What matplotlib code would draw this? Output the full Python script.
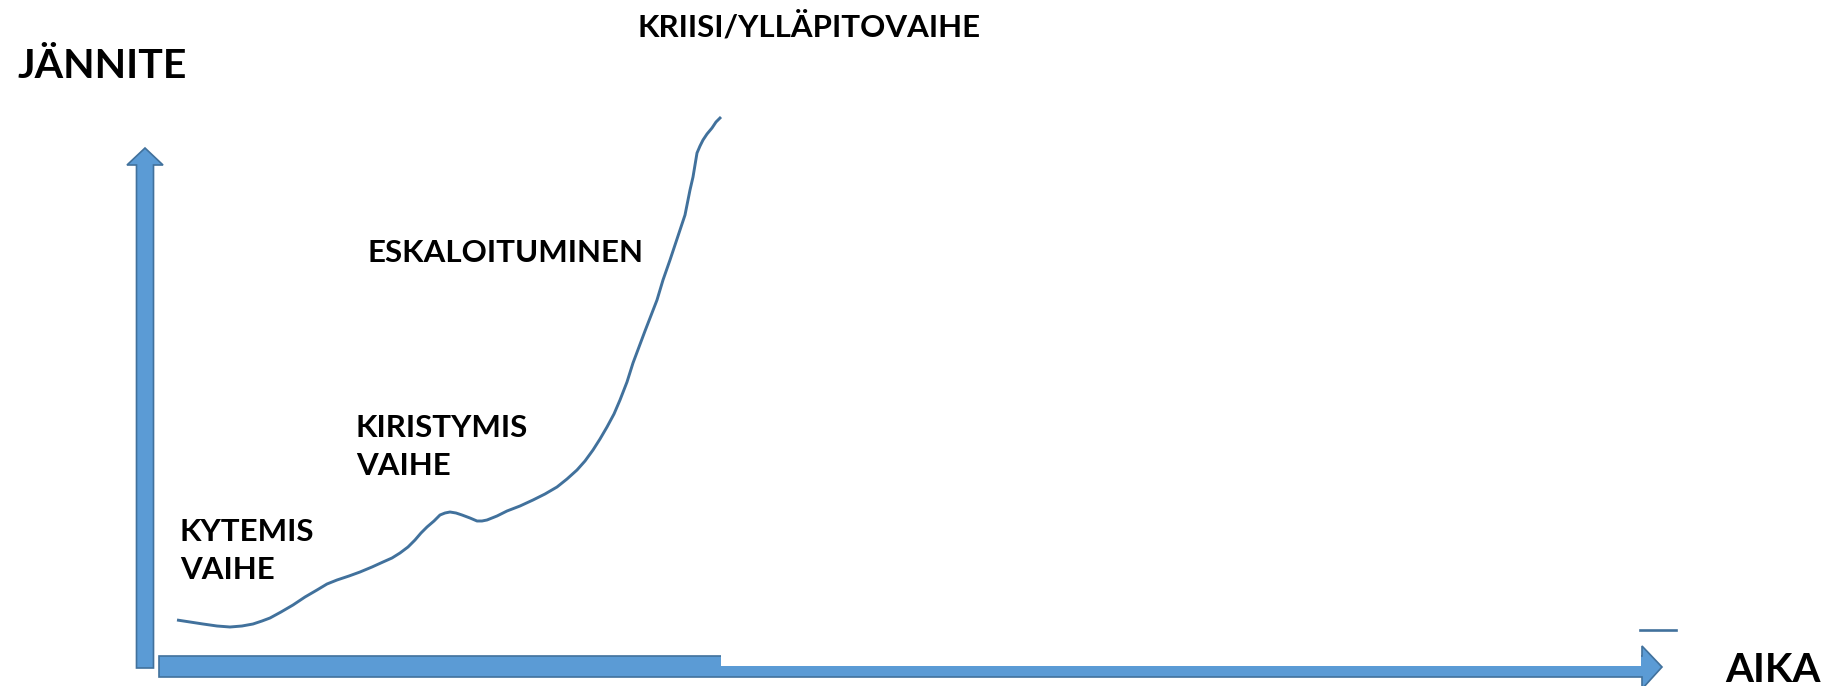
"""Jännitteen kasvu ajan funktiona: kytemis-, kiristymis-, eskaloitumis- ja kriisivaihe."""
import matplotlib
matplotlib.use("Agg")
import matplotlib.pyplot as plt
from matplotlib.patches import Polygon, Rectangle

plt.rcParams['font.family'] = ['Lato', 'DejaVu Sans']

# curve: time (x) and tension (y) above the axes corner
aika = [32, 45, 58, 72, 85, 97, 108, 117, 125, 136, 148, 160, 172, 182,
        192, 204, 215, 227, 238, 247, 255, 263, 270, 276, 282, 289, 295,
        300, 305, 311, 317, 325, 332, 337, 342, 352, 362, 375, 388, 400,
        412, 422, 432, 440, 448, 455, 462, 469, 475, 482, 488, 500, 512,
        518, 525, 530, 535, 540, 543, 545, 548, 550, 552, 555, 558, 562,
        567, 571, 576]
jannite = [48, 46, 44, 42, 41, 42, 44, 47, 50, 56, 63, 71, 78, 84,
           88, 92, 96, 101, 106, 110, 115, 121, 128, 135, 141, 147, 153,
           155, 156, 155, 153, 150, 147, 147, 148, 152, 157, 162, 168, 174,
           181, 189, 198, 207, 218, 229, 241, 254, 268, 286, 305, 337, 368,
           388, 408, 423, 438, 453, 468, 478, 491, 503, 515, 522, 528, 534,
           540, 546, 551]

# small stray segment near the right end of the time axis
loppu_aika = [1495, 1531]
loppu_jannite = [38, 38]

vaiheet = ["KYTEMIS\nVAIHE", "KIRISTYMIS\nVAIHE", "ESKALOITUMINEN",
           "KRIISI/YLLÄPITOVAIHE"]

fill_c = "#5B9BD5"
edge_c = "#41719C"
line_c = "#41719C"

fig = plt.figure(figsize=(18.28, 6.86), dpi=100)
ax = fig.add_axes([0, 0, 1, 1])
ax.set_xlim(-145, 1683)
ax.set_ylim(-18, 668)
ax.axis("off")

# y-axis arrow
ax.add_patch(Polygon([(-8.5, 0), (8.5, 0), (8.5, 503), (18, 503), (0, 520),
                      (-18, 503), (-8.5, 503)], closed=True,
                     facecolor=fill_c, edgecolor=edge_c, linewidth=1.2,
                     zorder=2))
# x-axis arrow
ax.add_patch(Polygon([(14, -9), (1497, -9), (1497, -21), (1517, 1),
                      (1497, 22), (1497, 12), (14, 12)], closed=True,
                     facecolor=fill_c, edgecolor=edge_c, linewidth=1.2,
                     zorder=2))
# the upper part of the shaft is cut away right of the middle
ax.add_patch(Rectangle((576, 2), 919.5, 14, facecolor="white",
                       edgecolor="none", zorder=3))

ax.plot(aika, jannite, color=line_c, linewidth=2.1, zorder=4,
        solid_joinstyle="round", solid_capstyle="butt")
ax.plot(loppu_aika, loppu_jannite, color=line_c, linewidth=1.9, zorder=4)

fs = 22.5
txt = dict(fontweight="bold", fontsize=fs, color="black", ha="left",
           va="baseline", linespacing=1.45)
ax.text(35, 89, vaiheet[0], **txt)
ax.text(211, 193, vaiheet[1], **txt)
ax.text(222, 406, vaiheet[2], **txt)
ax.text(492, 631, vaiheet[3], **txt)

ax.text(-128, 590, "JÄNNITE", fontweight="bold", fontsize=29.5, ha="left",
        va="baseline")
ax.text(1580, -14, "AIKA", fontweight="bold", fontsize=29, ha="left",
        va="baseline")

fig.savefig("out.png", dpi=100)
